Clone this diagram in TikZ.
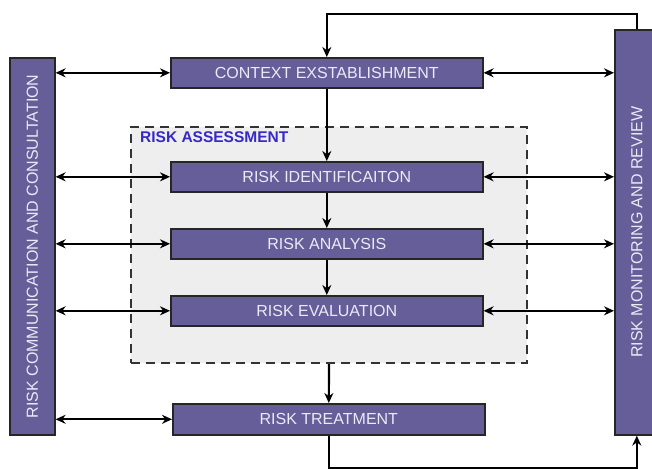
\documentclass[tikz,border=0pt]{standalone}
\usepackage{fontspec}
\setmainfont{Liberation Sans}
\usetikzlibrary{arrows.meta}
\definecolor{boxpurple}{RGB}{102,94,152}
\definecolor{boxtext}{RGB}{234,234,246}
\definecolor{asmtblue}{RGB}{55,40,200}
\definecolor{asmtgray}{RGB}{238,238,238}
\begin{document}
\begin{tikzpicture}[x=1pt,y=-1pt,
  stepbox/.style={draw=black!85, line width=1.6pt, fill=boxpurple, text=boxtext,
    font=\fontsize{16}{18}\selectfont, inner sep=0pt, anchor=north west},
  arr/.style={-{Stealth[length=10pt,width=9pt]}, line width=2.2pt},
  darr/.style={{Stealth[length=10pt,width=9pt]}-{Stealth[length=10pt,width=9pt]}, line width=2.2pt}]
\useasboundingbox (0,0) rectangle (652,468);
% risk assessment group
\node[draw=black!80, dashed, dash pattern=on 9pt off 6pt, line width=2pt, fill=asmtgray,
  minimum width=396pt, minimum height=236pt, anchor=north west, inner sep=0pt] (assess) at (130,126) {};
\node[anchor=north west, text=asmtblue, font=\bfseries\fontsize{15.5}{17}\selectfont, inner sep=0pt] (assesslbl) at (140,131) {RISK ASSESSMENT};
% side bars
\node[stepbox, minimum width=45pt, minimum height=377pt] (comm) at (9,57) {\rotatebox{90}{RISK COMMUNICATION AND CONSULTATION}};
\node[stepbox, minimum width=44pt, minimum height=405pt] (mon) at (614,29) {\rotatebox{90}{RISK MONITORING AND REVIEW}};
% process boxes
\node[stepbox, minimum width=312pt, minimum height=30pt] (ctx) at (170,57) {CONTEXT EXSTABLISHMENT};
\node[stepbox, minimum width=312pt, minimum height=30pt] (ident) at (170,161) {RISK IDENTIFICAITON};
\node[stepbox, minimum width=312pt, minimum height=30pt] (anal) at (170,228) {RISK ANALYSIS};
\node[stepbox, minimum width=312pt, minimum height=30pt] (eval) at (170,295) {RISK EVALUATION};
\node[stepbox, minimum width=312pt, minimum height=31pt] (treat) at (172,403) {RISK TREATMENT};
% main flow
\draw[arr] (mon.north) -- ++(0,-15) -| (ctx.north);
\draw[arr] (ctx.south) -- (ident.north);
\draw[arr] (ident.south) -- (anal.north);
\draw[arr] (anal.south) -- (eval.north);
\draw[arr] (assess.south) -- (treat.north);
\draw[arr] (treat.south) -- ++(0,32) -| (mon.south);
% communication links
\foreach \b in {ctx,ident,anal,eval,treat}
  \draw[darr] (comm.east |- \b.west) -- (\b.west);
% monitoring links
\foreach \b in {ctx,ident,anal,eval}
  \draw[darr] (\b.east) -- (mon.west |- \b.east);
\end{tikzpicture}
\end{document}
